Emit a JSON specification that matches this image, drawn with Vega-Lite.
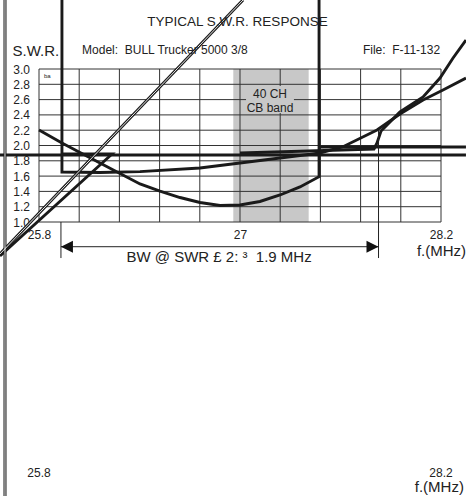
{
  "$schema": "https://vega.github.io/schema/vega-lite/v6.json",
  "width": 402,
  "height": 153,
  "autosize": {"type": "none"},
  "padding": {"left": 39, "top": 69, "right": 25, "bottom": 274},
  "background": "white",
  "config": {"view": {"stroke": null}, "font": "Liberation Sans", "text": {"font": "Liberation Sans", "color": "#222"}},
  "datasets": {
    "curves": [
      {"s": "A", "x": 25.8, "y": 2.203},
      {"s": "A", "x": 25.937, "y": 2.033},
      {"s": "A", "x": 26.164, "y": 1.771},
      {"s": "A", "x": 26.403, "y": 1.497},
      {"s": "A", "x": 26.522, "y": 1.405},
      {"s": "A", "x": 26.642, "y": 1.32},
      {"s": "A", "x": 26.761, "y": 1.255},
      {"s": "A", "x": 26.881, "y": 1.216},
      {"s": "A", "x": 27.0, "y": 1.222},
      {"s": "A", "x": 27.119, "y": 1.268},
      {"s": "A", "x": 27.239, "y": 1.353},
      {"s": "A", "x": 27.358, "y": 1.458},
      {"s": "A", "x": 27.472, "y": 1.592},
      {"s": "A", "x": 27.472, "y": 3.902},
      {"s": "B", "x": 25.937, "y": 3.902},
      {"s": "B", "x": 25.937, "y": 1.654},
      {"s": "B", "x": 26.164, "y": 1.647},
      {"s": "B", "x": 26.403, "y": 1.658},
      {"s": "B", "x": 26.761, "y": 1.706},
      {"s": "B", "x": 27.0, "y": 1.771},
      {"s": "B", "x": 27.239, "y": 1.837},
      {"s": "B", "x": 27.478, "y": 1.902},
      {"s": "B", "x": 27.615, "y": 1.984},
      {"s": "B", "x": 27.818, "y": 2.203},
      {"s": "B", "x": 27.955, "y": 2.412},
      {"s": "B", "x": 28.093, "y": 2.595},
      {"s": "B", "x": 28.212, "y": 2.725},
      {"s": "B", "x": 28.349, "y": 2.882},
      {"s": "C", "x": 27.0, "y": 1.902},
      {"s": "C", "x": 27.358, "y": 1.924},
      {"s": "C", "x": 27.8, "y": 1.954},
      {"s": "C", "x": 27.818, "y": 2.033},
      {"s": "C", "x": 27.842, "y": 2.19},
      {"s": "C", "x": 27.955, "y": 2.438},
      {"s": "C", "x": 28.093, "y": 2.634},
      {"s": "C", "x": 28.194, "y": 2.882},
      {"s": "C", "x": 28.272, "y": 3.144},
      {"s": "C", "x": 28.349, "y": 3.379},
      {"s": "H1", "x": 25.567, "y": 1.876},
      {"s": "H1", "x": 28.349, "y": 1.876},
      {"s": "H2", "x": 27.477, "y": 1.98},
      {"s": "H2", "x": 28.349, "y": 1.98},
      {"s": "S", "x": 25.567, "y": 0.556},
      {"s": "S", "x": 26.236, "y": 1.889},
      {"s": "S", "x": 25.943, "y": 1.889}
    ],
    "dbl": [
      {"s": "D", "x": 25.567, "y": 0.582},
      {"s": "D", "x": 27.018, "y": 3.902},
      {"s": "L", "x": 25.597, "y": 3.902},
      {"s": "L", "x": 25.597, "y": -2.582}
    ]
  },
  "encoding": {
    "x": {
      "field": "x", "type": "quantitative",
      "scale": {"domain": [25.8, 28.2], "nice": false, "zero": false},
      "axis": {
        "values": [25.8, 27, 28.2], "format": ".1~f",
        "domain": false, "ticks": false, "tickSize": 0, "grid": false,
        "labelPadding": 7, "labelFontSize": 12, "labelColor": "#222", "labelFont": "Liberation Sans",
        "labelFlush": false, "labelOverlap": false, "labelBound": false,
        "title": "f.(MHz)", "titleX": 402, "titleY": 33.5, "titleAlign": "center", "titleBaseline": "alphabetic",
        "titleFontSize": 15, "titleFontWeight": "normal", "titleColor": "#222", "titleFont": "Liberation Sans"
      }
    },
    "y": {
      "field": "y", "type": "quantitative",
      "scale": {"domain": [1, 3], "nice": false, "zero": false},
      "axis": {
        "values": [1.0, 1.2, 1.4, 1.6, 1.8, 2.0, 2.2, 2.4, 2.6, 2.8, 3.0], "format": ".1f",
        "domain": false, "ticks": false, "tickSize": 0, "grid": false,
        "labelPadding": 9.5, "labelFontSize": 12, "labelColor": "#222", "labelFont": "Liberation Sans",
        "labelFlush": false, "labelOverlap": false, "labelBound": false,
        "title": "S.W.R.", "titleAngle": 0, "titleX": -27, "titleY": -14, "titleAlign": "left", "titleBaseline": "alphabetic",
        "titleFontSize": 15, "titleFontWeight": "normal", "titleColor": "#222", "titleFont": "Liberation Sans"
      }
    }
  },
  "layer": [
    {
      "data": {"values": [{"x": 26.96, "x2": 27.41, "y": 1, "y2": 3}]},
      "mark": {"type": "rect", "fill": "#c8c8c8"},
      "encoding": {"x2": {"field": "x2"}, "y2": {"field": "y2"}}
    },
    {
      "data": {"values": [
        {"x": 25.8, "y": 1, "y2": 3}, {"x": 26.04, "y": 1, "y2": 3}, {"x": 26.28, "y": 1, "y2": 3},
        {"x": 26.52, "y": 1, "y2": 3}, {"x": 26.76, "y": 1, "y2": 3}, {"x": 27.0, "y": 1, "y2": 3},
        {"x": 27.24, "y": 1, "y2": 3}, {"x": 27.48, "y": 1, "y2": 3}, {"x": 27.72, "y": 1, "y2": 3},
        {"x": 27.96, "y": 1, "y2": 3}, {"x": 28.2, "y": 1, "y2": 3}
      ]},
      "mark": {"type": "rule", "stroke": "#333", "strokeWidth": 1},
      "encoding": {"y2": {"field": "y2"}}
    },
    {
      "data": {"values": [
        {"x": 25.8, "x2": 28.2, "y": 1.0}, {"x": 25.8, "x2": 28.2, "y": 1.2}, {"x": 25.8, "x2": 28.2, "y": 1.4},
        {"x": 25.8, "x2": 28.2, "y": 1.6}, {"x": 25.8, "x2": 28.2, "y": 1.8}, {"x": 25.8, "x2": 28.2, "y": 2.0},
        {"x": 25.8, "x2": 28.2, "y": 2.2}, {"x": 25.8, "x2": 28.2, "y": 2.4}, {"x": 25.8, "x2": 28.2, "y": 2.6},
        {"x": 25.8, "x2": 28.2, "y": 2.8}, {"x": 25.8, "x2": 28.2, "y": 3.0}
      ]},
      "mark": {"type": "rule", "stroke": "#333", "strokeWidth": 1},
      "encoding": {"x2": {"field": "x2"}}
    },
    {
      "data": {"values": [{"x": 27.036, "x2": 27.322, "y": 2.425, "y2": 2.778}]},
      "mark": {"type": "rect", "fill": "#c8c8c8"},
      "encoding": {"x2": {"field": "x2"}, "y2": {"field": "y2"}}
    },
    {
      "data": {"name": "curves"},
      "mark": {"type": "line", "stroke": "#1a1a1a", "strokeWidth": 2.9, "clip": false},
      "encoding": {"detail": {"field": "s"}, "order": {"value": null}}
    },
    {
      "data": {"name": "dbl"},
      "mark": {"type": "line", "stroke": "#1a1a1a", "strokeWidth": 3, "clip": false},
      "encoding": {"detail": {"field": "s"}, "order": {"value": null}}
    },
    {
      "data": {"name": "dbl"},
      "mark": {"type": "line", "stroke": "#ffffff", "strokeWidth": 0.9, "clip": false},
      "encoding": {"detail": {"field": "s"}, "order": {"value": null}}
    },
    {
      "data": {"values": [{"x": 25.931, "y": 1.0, "y2": 0.529}, {"x": 27.827, "y": 2.203, "y2": 0.529}]},
      "mark": {"type": "rule", "stroke": "#222", "strokeWidth": 1},
      "encoding": {"y2": {"field": "y2"}}
    },
    {
      "data": {"values": [{"x": 25.931, "x2": 27.827, "y": 0.677}]},
      "mark": {"type": "rule", "stroke": "#222", "strokeWidth": 1},
      "encoding": {"x2": {"field": "x2"}}
    },
    {
      "data": {"values": [{"x": 25.931, "y": 0.677}]},
      "mark": {"type": "point", "shape": "M0,0L2,-1L2,1Z", "filled": true, "size": 144, "color": "#111", "opacity": 1, "strokeWidth": 0}
    },
    {
      "data": {"values": [{"x": 27.827, "y": 0.677}]},
      "mark": {"type": "point", "shape": "M0,0L-2,-1L-2,1Z", "filled": true, "size": 144, "color": "#111", "opacity": 1, "strokeWidth": 0}
    },
    {
      "data": {"values": [{"x": 26.985, "y": 3.562, "t": "TYPICAL S.W.R. RESPONSE"}]},
      "mark": {"type": "text", "align": "center", "baseline": "alphabetic", "fontSize": 13.5},
      "encoding": {"text": {"field": "t"}}
    },
    {
      "data": {"values": [
        {"x": 26.057, "y": 3.196, "t": "Model:\u00a0 BULL Trucker 5000 3/8"},
        {"x": 27.734, "y": 3.196, "t": "File:\u00a0 F-11-132"}
      ]},
      "mark": {"type": "text", "align": "left", "baseline": "alphabetic", "fontSize": 12},
      "encoding": {"text": {"field": "t"}}
    },
    {
      "data": {"values": [{"x": 25.83, "y": 2.882, "t": "ba"}]},
      "mark": {"type": "text", "align": "left", "baseline": "alphabetic", "fontSize": 6},
      "encoding": {"text": {"field": "t"}}
    },
    {
      "data": {"values": [
        {"x": 27.179, "y": 2.621, "t": "40 CH"},
        {"x": 27.179, "y": 2.438, "t": "CB band"}
      ]},
      "mark": {"type": "text", "align": "center", "baseline": "alphabetic", "fontSize": 12},
      "encoding": {"text": {"field": "t"}}
    },
    {
      "data": {"values": [{"x": 26.875, "y": 0.471, "t": "BW @ SWR £ 2: ³\u00a0 1.9 MHz"}]},
      "mark": {"type": "text", "align": "center", "baseline": "alphabetic", "fontSize": 15},
      "encoding": {"text": {"field": "t"}}
    },
    {
      "data": {"values": [
        {"x": 25.8, "y": -2.327, "t": "25.8"},
        {"x": 28.2, "y": -2.327, "t": "28.2"}
      ]},
      "mark": {"type": "text", "align": "center", "baseline": "alphabetic", "fontSize": 12},
      "encoding": {"text": {"field": "t"}}
    },
    {
      "data": {"values": [{"x": 28.19, "y": -2.529, "t": "f.(MHz)"}]},
      "mark": {"type": "text", "align": "center", "baseline": "alphabetic", "fontSize": 15},
      "encoding": {"text": {"field": "t"}}
    }
  ]
}
